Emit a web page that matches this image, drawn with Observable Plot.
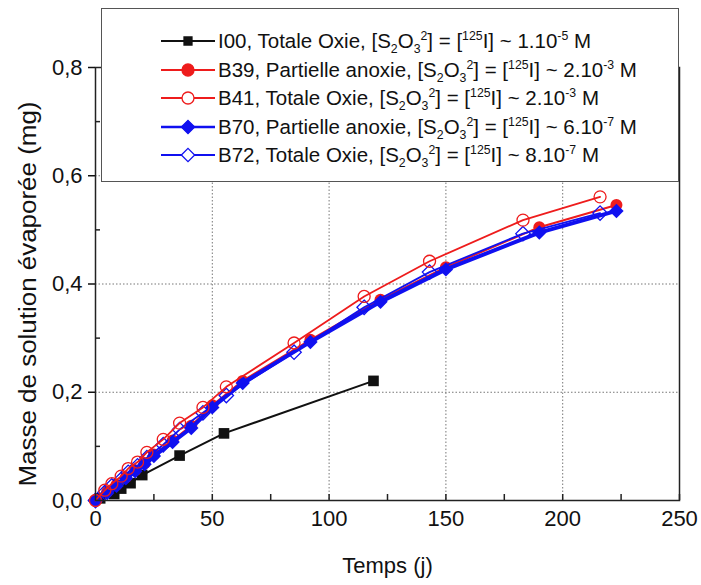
<!DOCTYPE html>
<html>
<head>
<meta charset="utf-8">
<script src="https://cdn.jsdelivr.net/npm/d3@7"></script>
<script src="https://cdn.jsdelivr.net/npm/@observablehq/plot@0.6"></script>
<style>
  body { margin: 0; background: #fff; font-family: "Liberation Sans", Arial, sans-serif; }
  #wrap { position: relative; width: 701px; height: 585px; }
  #legend { position: absolute; left: 101px; top: 8px; width: 576px; height: 172px;
            border: 1.5px solid #555; background: #fff; box-sizing: content-box; }
  .row { position: absolute; left: 58px; height: 28px; display: flex; align-items: center;
         font-size: 20.5px; color: #111; white-space: nowrap; }
  .row svg { margin-right: 2px; }
  sub, sup { font-size: 60%; line-height: 0; }
</style>
</head>
<body>
<div id="wrap"></div>
<script>
// ---- data ----
const xTicks = [0, 50, 100, 150, 200, 250];
const xMinor = [25, 75, 125, 175, 225];
const yTicks = [0, 0.2, 0.4, 0.6, 0.8];
const yMinor = [0.1, 0.3, 0.5, 0.7];
const xGrid = [50, 100, 150, 200];
const yGrid = [0.2, 0.4, 0.6];

const I00_t = [2, 8, 11, 15, 20, 36, 55, 119];
const I00_y = [0.004, 0.012, 0.022, 0.032, 0.047, 0.083, 0.124, 0.221];

const B39_t = [0, 5, 9, 13, 17, 21, 25, 33, 41, 50, 63, 92, 122, 150, 190, 223];
const B39_y = [0, 0.016, 0.029, 0.043, 0.056, 0.069, 0.085, 0.111, 0.138, 0.176, 0.221, 0.297, 0.371, 0.431, 0.505, 0.546];

const B41_t = [0, 4, 7, 11, 14, 18, 22, 29, 36, 46, 56, 85, 115, 143, 183, 216];
const B41_y = [0, 0.019, 0.031, 0.045, 0.059, 0.071, 0.089, 0.113, 0.143, 0.172, 0.210, 0.291, 0.377, 0.442, 0.518, 0.561];

const B70_t = [0, 5, 9, 13, 17, 21, 25, 33, 41, 50, 63, 92, 122, 150, 190, 223];
const B70_y = [0, 0.014, 0.027, 0.041, 0.054, 0.067, 0.082, 0.108, 0.134, 0.172, 0.217, 0.293, 0.367, 0.427, 0.495, 0.535];

const B72_t = [0, 4, 7, 11, 14, 18, 22, 29, 36, 46, 56, 85, 115, 143, 183, 216];
const B72_y = [0, 0.015, 0.027, 0.039, 0.052, 0.064, 0.079, 0.103, 0.131, 0.162, 0.194, 0.274, 0.357, 0.422, 0.493, 0.531];

const RED = "#ee1c1c", BLUE = "#1010f0", BLACK = "#111";

const pts = (t, y) => t.map((d, i) => ({x: d, y: y[i]}));
const I00 = pts(I00_t, I00_y), B39 = pts(B39_t, B39_y), B41 = pts(B41_t, B41_y),
      B70 = pts(B70_t, B70_y), B72 = pts(B72_t, B72_y);

const W = 701, H = 585, mL = 95, mR = 22, mT = 67, mB = 85;
const innerW = W - mL - mR, innerH = H - mT - mB;
const fmt = d => d.toFixed(1).replace(".", ",");

const chart = Plot.plot({
  width: W, height: H,
  marginLeft: mL, marginRight: mR, marginTop: mT, marginBottom: mB,
  style: {fontFamily: "'Liberation Sans', Arial, sans-serif", fontSize: "22px", color: "#111", background: "#fff"},
  x: {domain: [0, 250]},
  y: {domain: [0, 0.8]},
  marks: [
    Plot.gridX(xGrid, {stroke: "#777", strokeOpacity: 1, strokeDasharray: "1.5,2"}),
    Plot.gridY(yGrid, {stroke: "#777", strokeOpacity: 1, strokeDasharray: "1.5,2"}),
    Plot.tickX(xTicks.concat(xMinor), {x: d => d, insetTop: innerH - 6, stroke: "#222", strokeWidth: 1.5}),
    Plot.tickY(yMinor, {y: d => d, insetRight: innerW - 5, stroke: "#222", strokeWidth: 1.5}),
    Plot.axisX({ticks: xTicks, tickSize: 0, tickPadding: 10, tickFormat: d => String(d),
                label: "Temps (j)", labelAnchor: "center", labelOffset: 72, labelArrow: "none"}),
    Plot.axisY({ticks: yTicks, tickSize: 7, tickPadding: 6, tickFormat: fmt, strokeWidth: 1.5,
                label: "Masse de solution évaporée (mg)", labelAnchor: "center", labelOffset: 76, labelArrow: "none"}),
    Plot.line(I00, {x: "x", y: "y", stroke: BLACK, strokeWidth: 2}),
    Plot.dot(I00, {x: "x", y: "y", symbol: "square", r: 6, fill: BLACK}),
    Plot.line(B39, {x: "x", y: "y", stroke: RED, strokeWidth: 2}),
    Plot.dot(B39, {x: "x", y: "y", symbol: "circle", r: 6, fill: RED}),
    Plot.line(B70, {x: "x", y: "y", stroke: BLUE, strokeWidth: 4}),
    Plot.dot(B70, {x: "x", y: "y", symbol: "diamond2", r: 6.5, fill: BLUE}),
    Plot.line(B72, {x: "x", y: "y", stroke: BLUE, strokeWidth: 1.8}),
    Plot.dot(B72, {x: "x", y: "y", symbol: "diamond2", r: 6.5, fill: "none", stroke: BLUE, strokeWidth: 1.3}),
    Plot.line(B41, {x: "x", y: "y", stroke: RED, strokeWidth: 1.8}),
    Plot.dot(B41, {x: "x", y: "y", symbol: "circle", r: 6, fill: "none", stroke: RED, strokeWidth: 1.3}),
    Plot.frame({stroke: "#222", strokeWidth: 1.5})
  ]
});

const wrap = document.getElementById("wrap");
wrap.appendChild(chart);

// stretch the y-axis title to the reference's length
d3.select(chart).selectAll('g[aria-label="y-axis label"] text')
  .attr("textLength", 385).attr("lengthAdjust", "spacingAndGlyphs")
  .attr("font-size", "23px").attr("dx", "-10");

// ---- legend ----
const S = "[S<sub>2</sub>O<sub>3</sub><sup>2</sup>] = [<sup>125</sup>I] ~ ";
const legendItems = [
  {color: BLACK, sym: "square", fill: true, lw: 2, text: "I00, Totale Oxie, " + S + "1.10<sup>-5</sup> M"},
  {color: RED, sym: "circle", fill: true, lw: 2, text: "B39, Partielle anoxie, " + S + "2.10<sup>-3</sup> M"},
  {color: RED, sym: "circle", fill: false, lw: 1.8, text: "B41, Totale Oxie, " + S + "2.10<sup>-3</sup> M"},
  {color: BLUE, sym: "diamond2", fill: true, lw: 2.5, text: "B70, Partielle anoxie, " + S + "6.10<sup>-7</sup> M"},
  {color: BLUE, sym: "diamond2", fill: false, lw: 1.8, text: "B72, Totale Oxie, " + S + "8.10<sup>-7</sup> M"}
];
const symMap = {square: d3.symbolSquare, circle: d3.symbolCircle, diamond2: d3.symbolDiamond2};
const legend = document.createElement("div");
legend.id = "legend";
legendItems.forEach((it, i) => {
  const row = document.createElement("div");
  row.className = "row";
  row.style.top = (18 + i * 28.5) + "px";
  const r = it.sym === "square" ? 4.5 : 6;
  const path = d3.symbol(symMap[it.sym], Math.PI * r * r)();
  row.innerHTML =
    `<svg width="56" height="20"><line x1="1" x2="55" y1="10" y2="10" stroke="${it.color}" stroke-width="${it.lw}"/>` +
    `<path transform="translate(28,10)" d="${path}" fill="${it.fill ? it.color : "#fff"}" stroke="${it.color}" stroke-width="1.3"/></svg>` +
    `<span>${it.text}</span>`;
  legend.appendChild(row);
});
wrap.appendChild(legend);
</script>
</body>
</html>
